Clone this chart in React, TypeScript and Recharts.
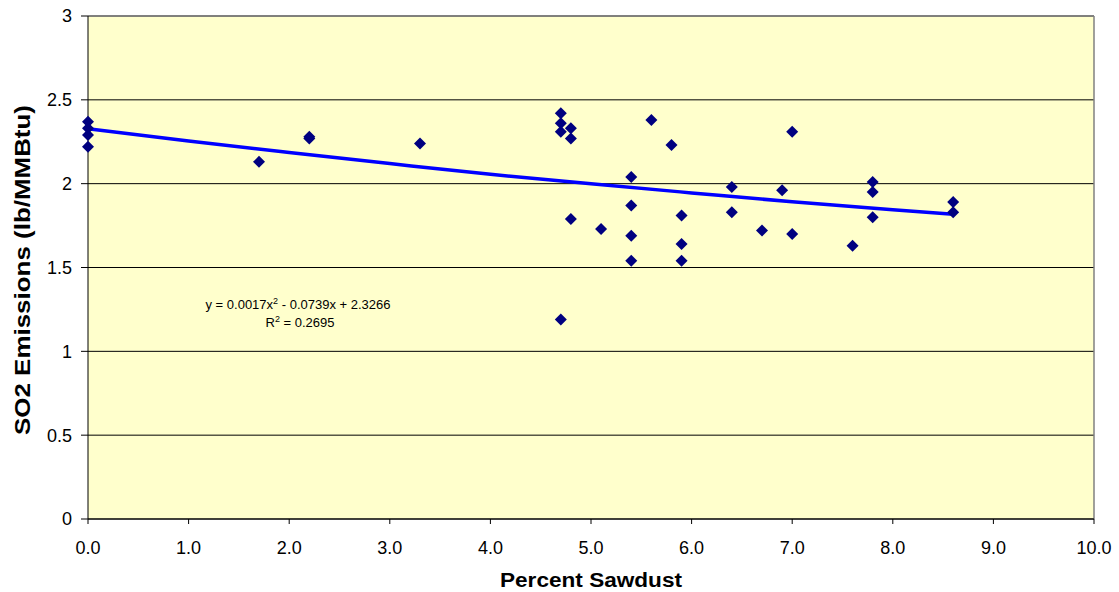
import React from 'react';
import {
  ComposedChart,
  Scatter,
  Line,
  XAxis,
  YAxis,
  CartesianGrid,
  ReferenceLine,
} from 'recharts';

// percent sawdust for each test run
const sawdust = [
  0, 0, 0, 0, 1.7, 2.2, 2.2, 3.3, 4.7, 4.7, 4.7, 4.7, 4.8, 4.8, 4.8, 5.1, 5.4, 5.4, 5.4, 5.4, 5.6, 5.8,
  5.9, 5.9, 5.9, 6.4, 6.4, 6.7, 6.9, 7.0, 7.0, 7.6, 7.8, 7.8, 7.8, 8.6, 8.6,
];
// SO2 emissions (lb/MMBtu)
const so2 = [
  2.37, 2.33, 2.29, 2.22, 2.13, 2.28, 2.27, 2.24, 2.42, 2.36, 2.31, 1.19, 2.33, 2.27, 1.79, 1.73, 2.04, 1.87,
  1.69, 1.54, 2.38, 2.23, 1.81, 1.64, 1.54, 1.98, 1.83, 1.72, 1.96, 2.31, 1.7, 1.63, 2.01, 1.95, 1.8, 1.89,
  1.83,
];

// trend line
const trendX = [0, 1, 2, 3, 4, 5, 6, 7, 8, 8.6];
const trendY = [2.327, 2.254, 2.186, 2.12, 2.056, 1.999, 1.945, 1.892, 1.844, 1.818];

const xTicks = [0, 1, 2, 3, 4, 5, 6, 7, 8, 9, 10];
const yTicks = [0, 0.5, 1, 1.5, 2, 2.5, 3];

const points = sawdust.map((x, i) => ({ x, y: so2[i] }));
const trend = trendX.map((x, i) => ({ x, y: trendY[i] }));

const FONT = '"Liberation Sans", Arial, sans-serif';

const Diamond = (props: any) => {
  const { cx, cy } = props;
  const r = 6;
  return (
    <polygon
      points={`${cx},${cy - r} ${cx + r},${cy} ${cx},${cy + r} ${cx - r},${cy}`}
      fill="#000080"
    />
  );
};

const XTitle = (props: any) => {
  const vb = props.viewBox || { x: 88, y: 519, width: 1006 };
  return (
    <text
      x={vb.x + vb.width / 2}
      y={587}
      textAnchor="middle"
      fontFamily={FONT}
      fontWeight="bold"
      fontSize={20}
      textLength={182}
      lengthAdjust="spacingAndGlyphs"
      fill="#000"
    >
      Percent Sawdust
    </text>
  );
};

const YTitle = () => {
  const cy = 270;
  return (
    <text
      x={22}
      y={cy}
      transform={`rotate(-90, 22, ${cy})`}
      textAnchor="middle"
      dominantBaseline="central"
      fontFamily={FONT}
      fontWeight="bold"
      fontSize={22}
      textLength={330}
      lengthAdjust="spacingAndGlyphs"
      fill="#000"
    >
      SO2 Emissions (lb/MMBtu)
    </text>
  );
};

const App = () => {
  return (
    <div style={{ position: 'absolute', left: 0, top: 0, width: 1119, height: 592, background: '#fff' }}>
      <ComposedChart
        width={1119}
        height={592}
        margin={{ top: 16, right: 25, bottom: 0, left: 0 }}
        style={{ fontFamily: FONT }}
      >
        <CartesianGrid
          vertical={false}
          stroke="#000"
          strokeWidth={1}
          fill="#FFFFCC"
          fillOpacity={1}
        />
        <XAxis
          type="number"
          dataKey="x"
          domain={[0, 10]}
          ticks={xTicks}
          tickFormatter={(v: number) => v.toFixed(1)}
          height={73}
          tickSize={5}
          tickMargin={17}
          stroke="#000"
          tick={{ fill: '#000', fontSize: 18, fontFamily: FONT }}
          label={<XTitle />}
        />
        <YAxis
          type="number"
          dataKey="y"
          domain={[0, 3]}
          ticks={yTicks}
          width={88}
          tickSize={7}
          tickMargin={9}
          stroke="#000"
          tick={{ fill: '#000', fontSize: 18, fontFamily: FONT }}
          label={<YTitle />}
        />
        <ReferenceLine y={3} stroke="#808080" strokeWidth={1.5} />
        <ReferenceLine x={10} stroke="#808080" strokeWidth={1.5} />
        <Scatter data={points} dataKey="y" shape={<Diamond />} isAnimationActive={false} />
        <Line
          data={trend}
          dataKey="y"
          type="monotone"
          stroke="#0000FF"
          strokeWidth={3.5}
          dot={false}
          activeDot={false}
          isAnimationActive={false}
        />
      </ComposedChart>
      <svg
        width={1119}
        height={592}
        style={{ position: 'absolute', left: 0, top: 0, pointerEvents: 'none' }}
      >
        <text x={298} y={309} textAnchor="middle" fontFamily={FONT} fontSize={13} fill="#000">
          y = 0.0017x<tspan dy={-5} fontSize={9}>2</tspan>
          <tspan dy={5}> - 0.0739x + 2.3266</tspan>
        </text>
        <text x={300} y={327} textAnchor="middle" fontFamily={FONT} fontSize={13} fill="#000">
          R<tspan dy={-5} fontSize={9}>2</tspan>
          <tspan dy={5}> = 0.2695</tspan>
        </text>
      </svg>
    </div>
  );
};

export default App;
